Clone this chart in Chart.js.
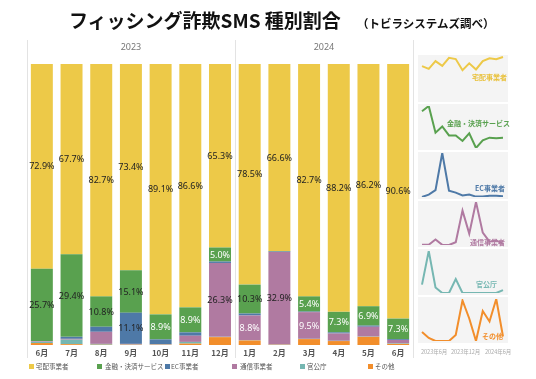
<!DOCTYPE html>
<html><head><meta charset="utf-8">
<script src="https://cdn.jsdelivr.net/npm/chart.js@4/dist/chart.umd.min.js"></script>
<style>
html,body{margin:0;padding:0;background:#fff;}
body{width:536px;height:379px;position:relative;overflow:hidden;font-family:"Noto Sans CJK JP","Noto Sans",sans-serif;}
.abs{position:absolute;white-space:nowrap;}
#main{position:absolute;left:0;top:0;}
.spark{position:absolute;left:418px;background:#f4f4f4;}
.slab{position:absolute;font-size:7px;font-weight:bold;line-height:9px;white-space:nowrap;}
.sq{position:absolute;width:5px;height:5px;top:364px;}
.lt{position:absolute;top:362px;font-size:6.5px;line-height:9px;color:#555;white-space:nowrap;}
.dl{position:absolute;top:349px;font-size:5.5px;line-height:7px;color:#aaa;white-space:nowrap;}
</style></head>
<body>
<canvas id="main" width="416" height="379"></canvas>
<div class="abs" style="left:69px;top:8px;font-size:19px;line-height:24px;font-weight:bold;color:#111;">フィッシング詐欺SMS 種別割合</div>
<div class="abs" style="left:357px;top:15px;font-size:11.5px;line-height:16px;font-weight:bold;color:#111;">（トビラシステムズ調べ）</div>

<canvas class="spark" id="s0" width="90" height="47" style="top:55px"></canvas>
<canvas class="spark" id="s1" width="90" height="46" style="top:104px"></canvas>
<canvas class="spark" id="s2" width="90" height="47" style="top:152px"></canvas>
<canvas class="spark" id="s3" width="90" height="46" style="top:201px"></canvas>
<canvas class="spark" id="s4" width="90" height="46" style="top:249px"></canvas>
<canvas class="spark" id="s5" width="90" height="46" style="top:297px"></canvas>

<div class="slab" style="left:472px;top:72.5px;color:#E9C23F">宅配事業者</div>
<div class="slab" style="left:447px;top:118.5px;color:#59A14F">金融・決済サービス</div>
<div class="slab" style="left:475px;top:183.5px;color:#4E79A7">EC事業者</div>
<div class="slab" style="left:470px;top:237.5px;color:#B07AA1">通信事業者</div>
<div class="slab" style="left:476px;top:279.5px;color:#76B7B2">官公庁</div>
<div class="slab" style="left:482px;top:331.5px;color:#F28E2B">その他</div>

<div class="dl" style="left:421px">2023年6月</div>
<div class="dl" style="left:451px">2023年12月</div>
<div class="dl" style="left:485px">2024年6月</div>

<div class="sq" style="left:29px;background:#EDC948"></div><div class="lt" style="left:36px">宅配事業者</div>
<div class="sq" style="left:97px;background:#59A14F"></div><div class="lt" style="left:105px">金融・決済サービス</div>
<div class="sq" style="left:165px;background:#4E79A7"></div><div class="lt" style="left:171px">EC事業者</div>
<div class="sq" style="left:232px;background:#B07AA1"></div><div class="lt" style="left:240px">通信事業者</div>
<div class="sq" style="left:300px;background:#76B7B2"></div><div class="lt" style="left:307px">官公庁</div>
<div class="sq" style="left:368px;background:#F28E2B"></div><div class="lt" style="left:375px">その他</div>

<script>
const months = ['6月','7月','8月','9月','10月','11月','12月','1月','2月','3月','4月','5月','6月'];
const yearLabels = ['2023','2024'];
const yearStart = [0,7];
const yearEnd = [6,12];

const takuhai  = [72.9,67.7,82.7,73.4,89.1,86.6,65.3,78.5,66.6,82.7,88.2,86.2,90.6];
const kinyu    = [25.7,29.4,10.8,15.1,8.9,8.9,5.0,10.3,0.1,5.4,7.3,6.9,7.3];
const ec       = [0.1,0.7,1.8,11.1,1.7,1.2,0.5,0.7,0.2,0.2,0.4,0.4,0.3];
const tsushin  = [0.2,0.3,4.3,0.2,0.1,2.2,26.3,8.8,32.9,9.5,2.6,3.5,1.2];
const kankocho = [0.4,1.6,0.3,0.1,0.1,0.6,0.1,0.1,0.1,0.1,0.1,0.1,0.2];
const sonota   = [0.7,0.3,0.1,0.1,0.1,0.5,2.8,1.6,0.1,2.1,1.4,2.9,0.4];

const C = {takuhai:'#EDC948', kinyu:'#59A14F', ec:'#4E79A7', tsushin:'#B07AA1', kankocho:'#76B7B2', sonota:'#F28E2B'};

const deco = {
  id:'deco',
  afterDatasetsDraw(chart){
    const ctx = chart.ctx, x = chart.scales.x, a = chart.chartArea;
    ctx.save();
    ctx.strokeStyle = '#e3e3e3'; ctx.lineWidth = 1;
    const xs = [a.left, (x.getPixelForValue(yearEnd[0]) + x.getPixelForValue(yearStart[1]))/2, a.right];
    xs.forEach(px => { const p = Math.round(px)+0.5; ctx.beginPath(); ctx.moveTo(p,40); ctx.lineTo(p,358); ctx.stroke(); });
    ctx.fillStyle = '#777'; ctx.font = '9px "Noto Sans","Noto Sans CJK JP"';
    ctx.textAlign = 'center'; ctx.textBaseline = 'middle';
    yearLabels.forEach((t,i) => {
      const c = (x.getPixelForValue(yearStart[i]) + x.getPixelForValue(yearEnd[i]))/2;
      ctx.fillText(t, c, 47);
    });
    ctx.font = '9px "Noto Sans"';
    chart.data.datasets.forEach((ds,di) => {
      const meta = chart.getDatasetMeta(di);
      meta.data.forEach((el,i) => {
        const v = ds.data[i];
        if (v < 5) return;
        ctx.fillStyle = v >= 10 ? '#222' : '#fff';
        ctx.fillText(v.toFixed(1)+'%', el.x, (el.y + el.base)/2 + 0.5);
      });
    });
    ctx.restore();
  }
};

const mk = (label, data, color) => ({label, data, backgroundColor:color, borderWidth:0, barPercentage:0.74, categoryPercentage:1});

new Chart(document.getElementById('main'), {
  type:'bar',
  data:{labels:months, datasets:[
    mk('その他', sonota, C.sonota),
    mk('官公庁', kankocho, C.kankocho),
    mk('通信事業者', tsushin, C.tsushin),
    mk('EC事業者', ec, C.ec),
    mk('金融・決済サービス', kinyu, C.kinyu),
    mk('宅配事業者', takuhai, C.takuhai)
  ]},
  options:{
    responsive:false, animation:false, events:[],
    layout:{padding:{left:27, right:3, top:64, bottom:20}},
    plugins:{legend:{display:false}, tooltip:{enabled:false}},
    scales:{
      x:{stacked:true, grid:{display:false, drawTicks:false}, border:{display:false},
         ticks:{color:'#555', font:{size:8, weight:'bold', family:'"Noto Sans CJK JP"'}, padding:3, maxRotation:0, autoSkip:false},
         afterFit(s){ s.height = 14; }},
      y:{stacked:true, display:false, min:0, max:100}
    }
  },
  plugins:[deco]
});

function spark(id, data, color, ymin, ymax, pt, pb){
  new Chart(document.getElementById(id), {
    type:'line',
    data:{labels:months, datasets:[{data, borderColor:color, borderWidth:2, pointRadius:0, tension:0, fill:false}]},
    options:{responsive:false, animation:false, events:[],
      layout:{padding:{left:4, right:5, top:pt, bottom:pb}},
      plugins:{legend:{display:false}, tooltip:{enabled:false}},
      scales:{x:{display:false}, y:{display:false, min:ymin, max:ymax}}}
  });
}
const mn = a => Math.min(...a), mx = a => Math.max(...a);
spark('s0', takuhai, C.takuhai, 6, 92.5, 1, 1);
spark('s1', kinyu, C.kinyu, mn(kinyu), mx(kinyu), 2, 2);
spark('s2', ec, C.ec, mn(ec), mx(ec), 1, 2);
spark('s3', tsushin, C.tsushin, mn(tsushin), mx(tsushin), 1, 2);
spark('s4', kankocho, C.kankocho, mn(kankocho), mx(kankocho), 2, 2);
spark('s5', sonota, C.sonota, mn(sonota), mx(sonota), 2, 2);
</script>
</body></html>
